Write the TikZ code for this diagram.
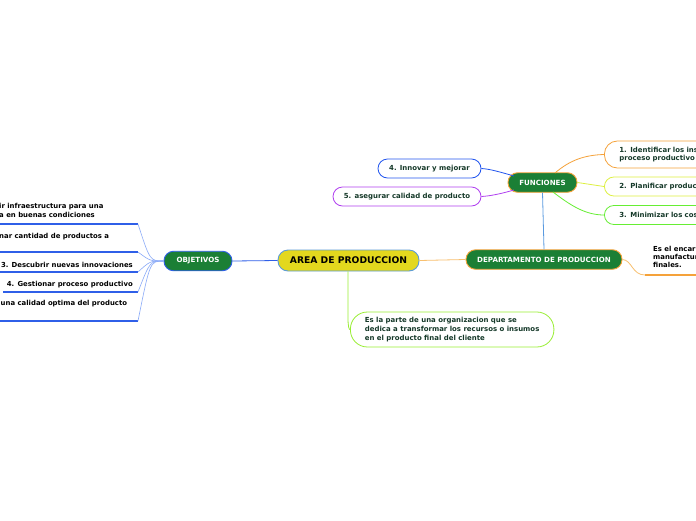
\documentclass[tikz,border=0pt]{standalone}
\usepackage{fontspec}
\setmainfont{DejaVu Sans}
\definecolor{areay}{HTML}{E3D81E}
\definecolor{areab}{HTML}{5B9BD5}
\definecolor{ngreen}{HTML}{1B7F35}
\definecolor{oblue}{HTML}{2F5FE8}
\definecolor{lblue}{HTML}{8AAAF8}
\definecolor{orng}{HTML}{F5A23A}
\definecolor{lorng}{HTML}{F8C070}
\definecolor{ylw}{HTML}{DDF040}
\definecolor{grn}{HTML}{66EE33}
\definecolor{lgrn}{HTML}{99EE33}
\definecolor{bblue}{HTML}{2255EE}
\definecolor{purp}{HTML}{B040F0}
\definecolor{dtext}{HTML}{143828}
\definecolor{vblue}{HTML}{5A9AE0}
\begin{document}
\begin{tikzpicture}[x=1pt,y=-1pt,
  mainbox/.style={draw=areab, fill=areay, line width=0.9pt, rounded corners=10pt,
    minimum width=141pt, minimum height=21pt, inner sep=0pt,
    font=\bfseries\fontsize{9.2}{10}\selectfont},
  gbox/.style={fill=ngreen, text=white, line width=0.9pt, rounded corners=9.5pt,
    minimum height=19.5pt, inner sep=0pt, font=\bfseries\fontsize{7.1}{8}\selectfont},
  cbox/.style={fill=white, line width=0.8pt, rounded corners=9.5pt, minimum height=19pt,
    inner sep=0pt, text=dtext, font=\bfseries\fontsize{6.95}{8}\selectfont},
  small/.style={inner sep=0pt, text=black, font=\bfseries\fontsize{6.9}{9}\selectfont},
  uline/.style={draw=oblue, line width=1.6pt},
  conn/.style={line width=0.8pt}
]
\clip (0,0) rectangle (696,520);
\fill[white] (0,0) rectangle (696,520);

% main nodes
\node[mainbox] (area) at (348.5,260.5) {AREA DE PRODUCCION};
\node[gbox, draw=oblue, minimum width=68pt] (obj) at (198,261) {OBJETIVOS};
\node[gbox, draw=orng, minimum width=156pt] (dep) at (544,259.5) {DEPARTAMENTO DE PRODUCCION};
\node[gbox, draw=orng, minimum width=69pt] (fun) at (542.5,182.5) {FUNCIONES};

% connectors of main
\draw[conn, draw=oblue] (area.west) -- (obj.east);
\draw[conn, draw=lorng] (area.east) -- (dep.west);
\draw[conn, draw=vblue] (fun.south) -- (dep.north);

% description
\node[cbox, draw=lgrn, rounded corners=17pt, anchor=west, minimum height=35pt,
  inner xsep=14.5pt, align=left, font=\bfseries\fontsize{6.95}{8.8}\selectfont]
  (desc) at (350,329.5) {Es la parte de una organizacion que se\\dedica a transformar los recursos o insumos\\en el producto final del cliente};
\coordinate (dk) at (348,318);
\draw[conn, draw=lgrn] (area.south -| dk) -- (dk) .. controls (348,326) and (349,330) .. (desc.west);

% funciones children right
\node[cbox, draw=orng, anchor=west, minimum width=140pt, minimum height=27pt, rounded corners=13pt,
  text width=110pt, align=left, inner xsep=15pt] (f1) at (604,154.5)
  {1. Identificar los ins\\proceso productivo};
\node[cbox, draw=ylw, anchor=west, minimum width=140pt, text width=110pt, align=left,
  inner xsep=11pt] (f2) at (604,186.5) {2. Planificar producc};
\node[cbox, draw=grn, anchor=west, minimum width=140pt, text width=110pt, align=left,
  inner xsep=11pt] (f3) at (604,215) {3. Minimizar los cost};
% funciones children left
\node[cbox, draw=bblue, minimum width=103pt] (f4) at (429.5,168.5) {4. Innovar y mejorar};
\node[cbox, draw=purp, minimum width=148pt] (f5) at (407,196.5) {5. asegurar calidad de producto};

\draw[conn, draw=orng] (555,173) .. controls (570,160) and (585,155) .. (f1.west);
\draw[conn, draw=ylw] (fun.east) -- (f2.west);
\draw[conn, draw=grn] (553,192) .. controls (570,205) and (585,215) .. (f3.west);
\draw[conn, draw=bblue] (514,176) .. controls (500,172) and (490,169) .. (f4.east);
\draw[conn, draw=purp] (514,190) .. controls (500,194) and (490,196) .. (f5.east);

% departamento child
\node[small, text=black, anchor=north west, align=left, font=\bfseries\fontsize{6.9}{7.8}\selectfont]
  (dt) at (653,246) {Es el encar\\manufactur\\finales.};
\coordinate (du1) at (645,275);
\coordinate (du2) at (700,275);
\draw[conn, draw=lorng] (dep.east) .. controls (632,260) and (632,275) .. (du1);
\draw[line width=1.4pt, draw=orng] (du1) -- (du2);

% objetivos children
\coordinate (o1) at (138,224); \coordinate (o1l) at (-2,224);
\coordinate (o2) at (138,252); \coordinate (o2l) at (-2,252);
\coordinate (o3) at (138,272); \coordinate (o3l) at (-2,272);
\coordinate (o4) at (138,292); \coordinate (o4l) at (3,292);
\coordinate (o5) at (138,321); \coordinate (o5l) at (-2,321);
\draw[uline] (o1l) -- (o1);
\draw[uline] (o2l) -- (o2);
\draw[uline] (o3l) -- (o3);
\draw[uline] (o4l) -- (o4);
\draw[uline] (o5l) -- (o5);
\foreach \c in {o1,o2,o3,o4,o5}
  \draw[conn, draw=lblue, line width=0.6pt] (obj.west) .. controls (150,261) and (150,261) .. (\c);

\node[small, anchor=north west, align=left] (t1) at (-1,203) {ir infraestructura para una\\a en buenas condiciones};
\node[small, anchor=north west, align=left] (t2) at (-1,233) {nar cantidad de productos a};
\node[small, anchor=east] (t3) at (133,265) {3. Descubrir nuevas innovaciones};
\node[small, anchor=east] (t4) at (133,284.5) {4. Gestionar proceso productivo};
\node[small, anchor=north west] (t5) at (0.5,300) {una calidad optima del producto};
\end{tikzpicture}
\end{document}
